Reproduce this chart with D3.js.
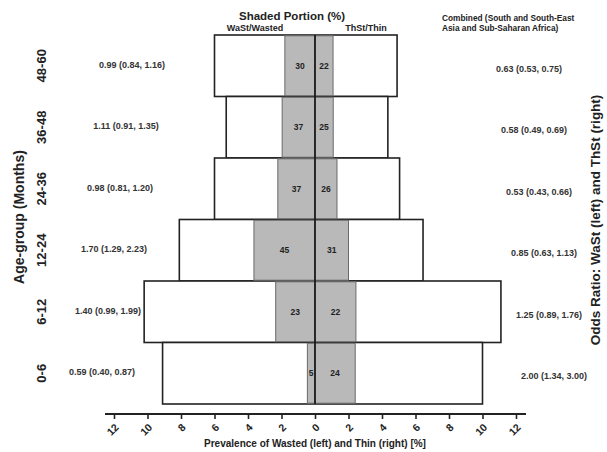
<!DOCTYPE html>
<html>
<head>
<meta charset="utf-8">
<script src="https://cdn.jsdelivr.net/npm/d3@7"></script>
<style>
  body { margin: 0; background: #fff; }
  text { font-family: "Liberation Sans", Arial, sans-serif; font-weight: bold; fill: #222; }
</style>
</head>
<body>
<svg id="chart" width="607" height="452"></svg>
<script>
// age groups, top row first
var ages = ["48-60", "36-48", "24-36", "12-24", "6-12", "0-6"];

// prevalence (%) of wasted (left) and thin (right)
var wasted = [6.0, 5.3, 6.0, 8.1, 10.2, 9.1];
var thin   = [4.9, 4.35, 5.05, 6.45, 11.1, 10.0];

// shaded portion (%) : WaSt share of wasted, ThSt share of thin
var shadeLeft  = [30, 37, 37, 45, 23, 5];
var shadeRight = [22, 25, 26, 31, 22, 24];

// odds ratios (95% CI)
var orLeft  = ["0.99 (0.84, 1.16)", "1.11 (0.91, 1.35)", "0.98 (0.81, 1.20)",
               "1.70 (1.29, 2.23)", "1.40 (0.99, 1.99)", "0.59 (0.40, 0.87)"];
var orRight = ["0.63 (0.53, 0.75)", "0.58 (0.49, 0.69)", "0.53 (0.43, 0.66)",
               "0.85 (0.63, 1.13)", "1.25 (0.89, 1.76)", "2.00 (1.34, 3.00)"];

var tickVals = [-12, -10, -8, -6, -4, -2, 0, 2, 4, 6, 8, 10, 12];

var svg = d3.select("#chart");

// scales
var x = d3.scaleLinear().domain([-12, 12]).range([114, 516]);
var y = d3.scaleBand().domain(ages).range([35, 404]).padding(0);

var rows = ages.map(function(a, i) {
  return {age: a, w: wasted[i], t: thin[i], sl: shadeLeft[i], sr: shadeRight[i],
          oL: orLeft[i], oR: orRight[i]};
});

var g = svg.append("g");

// white outer bars
g.selectAll(".bar").data(rows)
  .enter().append("rect")
    .attr("class", "bar")
    .attr("x", d => x(-d.w))
    .attr("y", d => y(d.age))
    .attr("width", d => x(d.t) - x(-d.w))
    .attr("height", y.bandwidth())
    .style("fill", "#fff")
    .style("stroke", "#222")
    .style("stroke-width", 1.6);

// shaded left
g.selectAll(".shL").data(rows)
  .enter().append("rect")
    .attr("class", "shL")
    .attr("x", d => x(-d.w * d.sl / 100))
    .attr("y", d => y(d.age) + 0.8)
    .attr("width", d => x(0) - x(-d.w * d.sl / 100))
    .attr("height", y.bandwidth() - 1.6)
    .style("fill", "#b9b9b9")
    .style("stroke", "#6a6a6a")
    .style("stroke-width", 1);

// shaded right
g.selectAll(".shR").data(rows)
  .enter().append("rect")
    .attr("class", "shR")
    .attr("x", x(0))
    .attr("y", d => y(d.age) + 0.8)
    .attr("width", d => x(d.t * d.sr / 100) - x(0))
    .attr("height", y.bandwidth() - 1.6)
    .style("fill", "#b9b9b9")
    .style("stroke", "#6a6a6a")
    .style("stroke-width", 1);

// center line
g.append("line")
  .attr("x1", x(0)).attr("x2", x(0))
  .attr("y1", y.range()[0]).attr("y2", y.range()[1])
  .style("stroke", "#111")
  .style("stroke-width", 1.6);

// shaded portion numbers
g.selectAll(".nL").data(rows)
  .enter().append("text")
    .attr("x", d => (x(0) + x(-d.w * d.sl / 100)) / 2)
    .attr("y", d => y(d.age) + y.bandwidth() / 2 + 3)
    .style("text-anchor", "middle")
    .style("font-size", "8.5px")
    .text(d => d.sl);

g.selectAll(".nR").data(rows)
  .enter().append("text")
    .attr("x", d => (x(0) + x(d.t * d.sr / 100)) / 2)
    .attr("y", d => y(d.age) + y.bandwidth() / 2 + 3)
    .style("text-anchor", "middle")
    .style("font-size", "8.5px")
    .text(d => d.sr);

// odds ratio labels, drifting outward row by row as in the original
g.selectAll(".oL").data(rows)
  .enter().append("text")
    .attr("x", (d, i) => 132 - 6 * i)
    .attr("y", d => y(d.age) + y.bandwidth() / 2 + 2)
    .style("text-anchor", "middle")
    .style("font-size", "9px")
    .style("fill", "#333")
    .text(d => d.oL);

g.selectAll(".oR").data(rows)
  .enter().append("text")
    .attr("x", (d, i) => 529 + 5 * i)
    .attr("y", d => y(d.age) + y.bandwidth() / 2 + 6)
    .style("text-anchor", "middle")
    .style("font-size", "9px")
    .style("fill", "#333")
    .text(d => d.oR);

// age labels
g.selectAll(".age").data(ages)
  .enter().append("text")
    .attr("transform", d => "translate(46," + (y(d) + y.bandwidth() / 2) + ") rotate(-90)")
    .style("text-anchor", "middle")
    .style("font-size", "13px")
    .text(d => d);

// bottom axis
var axisY = 414;
var axis = svg.append("g")
  .attr("transform", "translate(0," + axisY + ")")
  .call(d3.axisBottom(x).tickValues(tickVals).tickSize(5).tickFormat(d => Math.abs(d)));
axis.select(".domain").remove();
axis.append("line")
  .attr("x1", 105).attr("x2", 526)
  .style("stroke", "#222").style("stroke-width", 2);
axis.selectAll(".tick line").style("stroke", "#222").style("stroke-width", 1.6);
axis.selectAll(".tick text")
  .attr("y", 0).attr("dy", 0)
  .attr("transform", "translate(5,14) rotate(-45)")
  .style("text-anchor", "end")
  .style("font-family", "Liberation Sans, Arial, sans-serif")
  .style("font-weight", "bold")
  .style("font-size", "10.5px")
  .style("fill", "#222");

// titles
svg.append("text")
  .attr("x", x(0)).attr("y", 447)
  .style("text-anchor", "middle").style("font-size", "10px")
  .text("Prevalence of Wasted (left) and Thin (right) [%]");

svg.append("text")
  .attr("transform", "translate(24,217) rotate(-90)")
  .style("text-anchor", "middle").style("font-size", "14px")
  .text("Age-group (Months)");

svg.append("text")
  .attr("transform", "translate(600,220) rotate(-90)")
  .style("text-anchor", "middle").style("font-size", "13.5px")
  .text("Odds Ratio: WaSt (left) and ThSt (right)");

svg.append("text")
  .attr("x", 292).attr("y", 20)
  .style("text-anchor", "middle").style("font-size", "11.5px")
  .text("Shaded Portion (%)");

svg.append("text")
  .attr("x", 255).attr("y", 31)
  .style("text-anchor", "middle").style("font-size", "9px")
  .text("WaSt/Wasted");

svg.append("text")
  .attr("x", 366).attr("y", 31)
  .style("text-anchor", "middle").style("font-size", "9px")
  .text("ThSt/Thin");

svg.append("text")
  .attr("x", 442).attr("y", 21)
  .style("font-size", "8.3px")
  .text("Combined (South and South-East");
svg.append("text")
  .attr("x", 442).attr("y", 31)
  .style("font-size", "8.3px")
  .text("Asia and Sub-Saharan Africa)");
</script>
</body>
</html>
